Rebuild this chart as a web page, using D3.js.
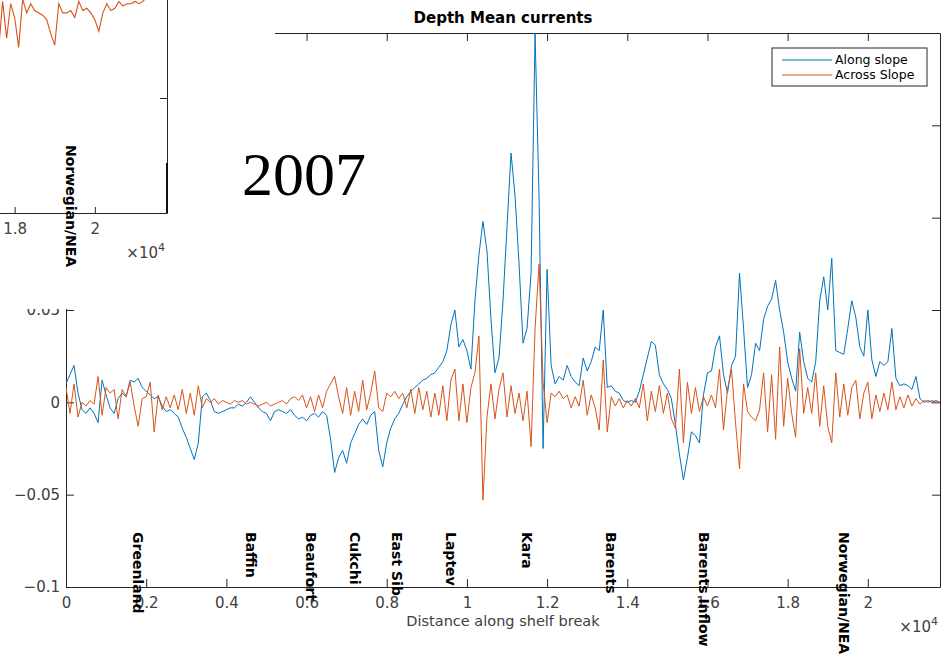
<!DOCTYPE html>
<html>
<head>
<meta charset="utf-8">
<script src="https://cdn.jsdelivr.net/npm/d3@7"></script>
<style>
  body { margin: 0; background: #fff; }
  svg { display: block; }
</style>
</head>
<body>
<div id="chart"></div>
<script>
// depth mean currents, in thousandths of m/s, one value every 100 along the shelf break
var step = 100;
var alongSlope = [
  10, 15, 20, 5, -4, -6, -3, -6, -11, 12,
  4, -3, -6, 2, 5, 3, 12, 11, 13, 8,
  6, 4, 2, 3, -2, -5, -4, -6, -8, -14,
  -19, -25, -31, -22, 3, 5, 1, -5, -6, -5,
  -4, -3, -3, -1, -2, 0, 3, 0, -3, -5,
  -6, -10, -5, -4, -5, -6, -4, -7, -9, -8,
  -10, -7, -6, -8, -5, -7, -20, -38, -30, -26,
  -33, -22, -17, -12, -9, -12, -7, -5, -26, -35,
  -22, -14, -9, -6, -1, 3, 6, 8, 10, 12,
  13, 15, 16, 19, 22, 28, 42, 50, 30, 34,
  28, 18, 55, 80, 98, 82, 45, 16, 24, 55,
  95, 135, 112, 75, 32, 40, 70, 200, 110, -25,
  72, 20, 10, 14, 12, 20, 14, 11, 9, 24,
  17, 22, 30, 28, 50, 8, 9, 6, 5, 1,
  0, 1, 0, 6, 15, 24, 33, 31, 15, 10,
  7, 2, -12, -28, -42, -30, -16, -18, -22, 4,
  16, 17, 30, 36, 15, 5, 20, 25, 70, 40,
  8, 15, 32, 28, 45, 52, 56, 66, 50, 38,
  22, 13, 6, 38, 22, 13, 11, 22, 55, 68,
  50, 78, 28, 27, 26, 40, 55, 46, 30, 25,
  50, 23, 14, 22, 20, 22, 40, 13, 9, 10,
  9, 7, 14, 2, 0, 1, 0, 1, 0
];
var acrossSlope = [
  8, -6, 10, -8, 0, -2, 1, -1, 14, -7,
  8, 5, 7, -9, 7, 3, 11, -2, -13, 2,
  3, 11, -16, 4, -4, 3, -3, 4, -4, 7,
  -6, 5, -7, 9, -3, 2, 0, 2, -1, 1,
  0, -1, 1, 0, 1, -1, 0, -1, -2, -1,
  0, -2, -1, 0, 1, -1, 2, 3, 1, 4,
  -3, 3, -5, 4, -3, 6, 10, 14, 3, -6,
  8, -7, 6, -5, 12, -4, 5, 17, -3, -5,
  5, 3, 6, 2, 5, -3, 7, -6, 8, -4,
  6, -8, 5, -7, 9, -10, 12, 18, -10, 10,
  -11, 8, 16, 36, -53, -8, 10, -9, 7, 16,
  -8, 9, -6, 5, -10, 6, -24, 40, 75, 11,
  -11, 5, 3, 6, 2, 4, -3, 3, -2, 12,
  -7, 4, -3, -15, 23, -16, 3, -2, 2, -3,
  1, -2, 2, -3, 10, -10, 6, -5, 9, -6,
  5, -9, -14, 18, -22, 11, -6, 8, -5, 3,
  -2, 4, -3, 18, -15, 7, 18, -11, -36, 10,
  -5, -8, -10, -4, 16, -16, 15, -20, 30, -13,
  13, -6, -19, 29, -6, 8, -6, 16, -13, 9,
  -13, -22, 16, -8, 10, -7, 8, 12, -9, 5,
  11, -9, 4, -5, 5, -4, 11, -4, 3, -3,
  4, -2, 2, -1, 1, 0, 1, 0, 0
];
var regionNames = ["Greenland", "Baffin", "Beaufort", "Cukchi", "East Sib", "Laptev", "Kara", "Barents", "Barents Inflow", "Norwegian/NEA"];
var regionPos = [1800, 4600, 6100, 7200, 8250, 9600, 11500, 13600, 15900, 19400];
var xTicks = [0, 2000, 4000, 6000, 8000, 10000, 12000, 14000, 16000, 18000, 20000];
var yTicks = [-0.1, -0.05, 0, 0.05, 0.1, 0.15, 0.2];
var seriesNames = ["Along slope", "Across Slope"];
var seriesColors = ["#0072BD", "#D95319"];

// the other figure peeking in at the top left
var insetStart = 17600;
var insetAcross = [
  -29, -8, -24, -9, -15, -28, -7, -13, -9, -12,
  -13, -14, -16, -22, -27, -9, -13, -13, -12, -15,
  -8, -12, -11, -13, -16, -21, -13, -9, -12, -11,
  -8, -10, -9, -9, -8, -9, -8, -6, -6
];
var insetXTicks = [18000, 20000];
var insetYTicks = [-0.1, -0.05];

var W = 950, H = 659;
var axisColor = "#262626", textColor = "#404040";

var svg = d3.select("#chart").append("svg")
    .attr("width", W)
    .attr("height", H);

var x = d3.scaleLinear().domain([0, 21800]).range([66, 940]);
var y = d3.scaleLinear().domain([-0.1, 0.2]).range([587, 33]);

function styleAxis(g, fs) {
  g.select(".domain").attr("stroke", axisColor);
  g.selectAll(".tick line").attr("stroke", axisColor);
  g.selectAll(".tick text").attr("fill", textColor)
    .style("font-family", "DejaVu Sans").style("font-size", fs + "px");
}

var fmtY = function(d) { return d === 0 ? "0" : (d < 0 ? "\u2212" : "") + Math.abs(d); };

svg.append("g").attr("transform", "translate(0,587)")
  .call(d3.axisBottom(x).tickValues(xTicks).tickSize(-8).tickSizeOuter(0).tickPadding(10)
    .tickFormat(function(d) { return d / 1e4; }))
  .call(styleAxis, 15);
svg.append("g").attr("transform", "translate(0,33)")
  .call(d3.axisTop(x).tickValues(xTicks).tickSize(-8).tickSizeOuter(0).tickFormat(""))
  .call(styleAxis, 15);
svg.append("g").attr("transform", "translate(66,0)")
  .call(d3.axisLeft(y).tickValues(yTicks).tickSize(-8).tickSizeOuter(0).tickPadding(6).tickFormat(fmtY))
  .call(styleAxis, 15);
svg.append("g").attr("transform", "translate(940,0)")
  .call(d3.axisRight(y).tickValues(yTicks).tickSize(-8).tickSizeOuter(0).tickFormat(""))
  .call(styleAxis, 15);

svg.append("clipPath").attr("id", "plotclip")
  .append("rect").attr("x", 66).attr("y", 33).attr("width", 874).attr("height", 554);

var line = d3.line()
  .x(function(d, i) { return x(i * step); })
  .y(function(d) { return y(d / 1000); });

var plot = svg.append("g").attr("clip-path", "url(#plotclip)");
[alongSlope, acrossSlope].forEach(function(s, k) {
  plot.append("path")
    .datum(s)
    .attr("d", line)
    .attr("fill", "none")
    .attr("stroke", seriesColors[k])
    .attr("stroke-width", 1)
    .attr("stroke-linejoin", "round");
});

// region names
svg.append("g").selectAll("text")
  .data(regionNames)
  .enter().append("text")
    .attr("transform", function(d, i) { return "translate(" + x(regionPos[i]) + ",532) rotate(90)"; })
    .attr("dy", "0.35em")
    .style("font-family", "DejaVu Sans")
    .style("font-weight", "bold")
    .style("font-size", "14px")
    .attr("fill", "#000")
    .text(function(d) { return d; });

// title and axis label
svg.append("text")
  .attr("x", 503).attr("y", 23)
  .attr("text-anchor", "middle")
  .style("font-family", "DejaVu Sans").style("font-weight", "bold").style("font-size", "15px")
  .attr("fill", "#000")
  .text("Depth Mean currents");
svg.append("text")
  .attr("x", 503).attr("y", 626)
  .attr("text-anchor", "middle")
  .style("font-family", "DejaVu Sans").style("font-size", "14.5px")
  .attr("fill", textColor)
  .text("Distance along shelf break");
var ex = svg.append("text")
  .attr("x", 938).attr("y", 632)
  .attr("text-anchor", "end")
  .style("font-family", "DejaVu Sans").style("font-size", "15px")
  .attr("fill", textColor);
ex.append("tspan").text("\u00d710");
ex.append("tspan").attr("dy", -7).style("font-size", "11px").text("4");

// legend
var lg = svg.append("g").attr("transform", "translate(772,48)");
lg.append("rect").attr("width", 155).attr("height", 38)
  .attr("fill", "#fff").attr("stroke", axisColor).attr("stroke-width", 1);
seriesNames.forEach(function(n, k) {
  var yy = 12 + k * 15;
  lg.append("line").attr("x1", 10).attr("x2", 60).attr("y1", yy).attr("y2", yy)
    .attr("stroke", seriesColors[k]).attr("stroke-width", 1);
  lg.append("text").attr("x", 63).attr("y", yy).attr("dy", "0.35em")
    .style("font-family", "DejaVu Sans").style("font-size", "12.5px")
    .attr("fill", "#000").text(n);
});

// the overlapping figure at the top left
svg.append("rect").attr("x", 0).attr("y", 0).attr("width", 275).attr("height", 309).attr("fill", "#fff");

var ix = d3.scaleLinear().domain([0, 21800]).range([-707, 167]);
var iy = d3.scaleLinear().domain([-0.1, 0.05]).range([213, -132]);
var inset = svg.append("g");
inset.append("clipPath").attr("id", "insetclip")
  .append("rect").attr("x", 0).attr("y", 0).attr("width", 167).attr("height", 213);
inset.append("g").attr("clip-path", "url(#insetclip)")
  .append("path")
    .datum(insetAcross)
    .attr("d", d3.line()
      .x(function(d, i) { return ix(insetStart + i * step); })
      .y(function(d) { return iy(d / 1000); }))
    .attr("fill", "none")
    .attr("stroke", seriesColors[1])
    .attr("stroke-width", 1.1);
inset.append("g").attr("transform", "translate(0,213)")
  .call(d3.axisBottom(ix).tickValues(insetXTicks).tickSize(-6).tickSizeOuter(0).tickPadding(10)
    .tickFormat(function(d) { return d / 1e4; }))
  .call(styleAxis, 15);
inset.append("g").attr("transform", "translate(167,0)")
  .call(d3.axisRight(iy).tickValues(insetYTicks).tickSize(-7).tickSizeOuter(0).tickFormat(""))
  .call(styleAxis, 15);
inset.append("line").attr("x1", 167).attr("x2", 167).attr("y1", 163).attr("y2", 213)
  .attr("stroke", "#111").attr("stroke-width", 2);
inset.append("text")
  .attr("transform", "translate(" + ix(regionPos[9]) + ",145) rotate(90)")
  .attr("dy", "0.35em")
  .style("font-family", "DejaVu Sans").style("font-weight", "bold").style("font-size", "14px")
  .attr("fill", "#000")
  .text(regionNames[9]);
var ex2 = inset.append("text")
  .attr("x", 165).attr("y", 258)
  .attr("text-anchor", "end")
  .style("font-family", "DejaVu Sans").style("font-size", "15px")
  .attr("fill", textColor);
ex2.append("tspan").text("\u00d710");
ex2.append("tspan").attr("dy", -7).style("font-size", "11px").text("4");

svg.append("text")
  .attr("x", 242).attr("y", 195)
  .style("font-family", "Liberation Serif").style("font-size", "62px")
  .attr("fill", "#000")
  .text("2007");
</script>
</body>
</html>
